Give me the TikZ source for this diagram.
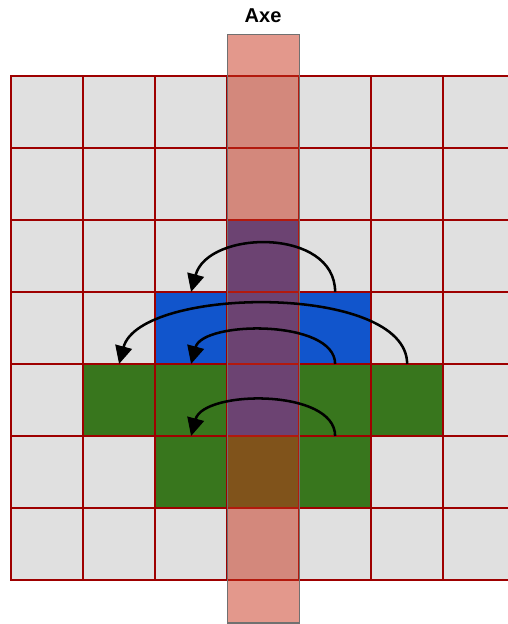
\documentclass[tikz,border=0pt]{standalone}
\usepackage{fontspec}
\setmainfont{Liberation Sans}
\usepackage{xcolor}
\usetikzlibrary{arrows.meta,positioning}
\definecolor{cellgray} {HTML}{E0E0E0}
\definecolor{gridred}  {HTML}{9E0000}
\definecolor{cellblue} {HTML}{1155CC}
\definecolor{cellgreen}{HTML}{38761D}
\definecolor{axefill}  {HTML}{C8321A}
\definecolor{axeline}  {HTML}{707070}

\begin{document}
\begin{tikzpicture}[x=1.2cm,y=1.2cm,
    cell/.style={draw=gridred, line width=1pt, fill=cellgray, minimum size=1.2cm,
                 inner sep=0pt, outer sep=0pt},
    axebar/.style={draw=axeline, line width=0.5pt, fill=axefill, fill opacity=0.5,
                   minimum width=1.2cm, minimum height=9.8cm, inner sep=0pt, outer sep=0pt},
    flow/.style={line width=1.2pt, -{Triangle[length=8.5pt,width=8pt]}}]
  \useasboundingbox (-0.153,-0.610) rectangle (6.893,8.054);
  \foreach \i in {1,...,7}{
    \foreach \j in {1,...,7}{
      \node[cell] (c\i-\j) at (\i-0.5,7.5-\j) {};
    }
  }
  \foreach \i/\j in {4/3,3/4,4/4,5/4,4/5}
    \node[cell, fill=cellblue] (c\i-\j) at (\i-0.5,7.5-\j) {};
  \foreach \i/\j in {2/5,3/5,5/5,6/5,3/6,4/6,5/6}
    \node[cell, fill=cellgreen] (c\i-\j) at (\i-0.5,7.5-\j) {};
  \node[axebar] (axe) at (3.5,3.487) {};
  \node[font=\bfseries\fontsize{9.5}{11}\selectfont, above=2pt of axe] (axelabel) {Axe};
  \draw[flow] (c5-4.north) to[out=90,in=75,looseness=1.15] (c3-4.north);
  \draw[flow] (c6-5.north) to[out=90,in=75,looseness=0.72] (c2-5.north);
  \draw[flow] (c5-5.north) to[out=90,in=75,looseness=0.8] (c3-5.north);
  \draw[flow] (c5-6.north) to[out=90,in=75,looseness=0.85] (c3-6.north);
\end{tikzpicture}
\end{document}
